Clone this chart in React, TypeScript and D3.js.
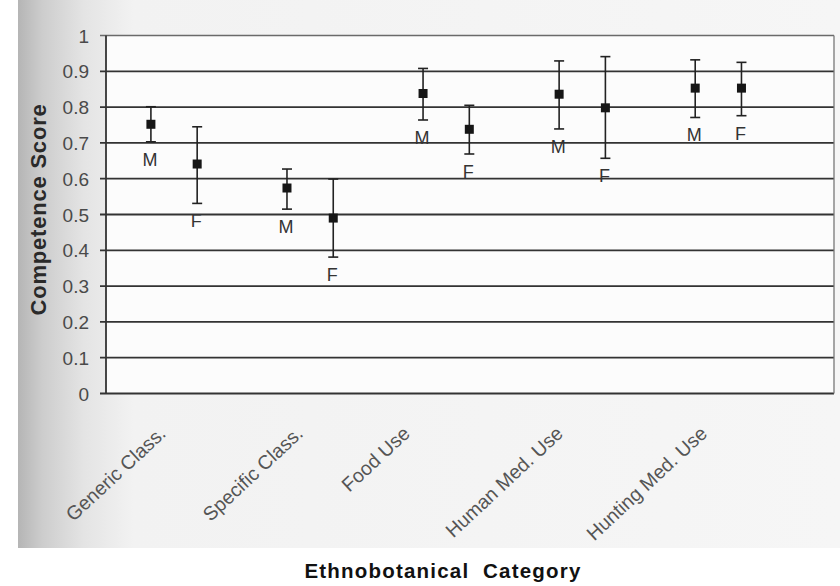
import React from "react";
import * as d3 from "d3";

const categories = ["Generic Class.", "Specific Class.", "Food Use", "Human Med. Use", "Hunting Med. Use"];
const maleMean = [0.752, 0.574, 0.838, 0.836, 0.853];
const maleLow = [0.703, 0.515, 0.764, 0.739, 0.771];
const maleHigh = [0.801, 0.627, 0.908, 0.929, 0.932];
const femaleMean = [0.641, 0.49, 0.738, 0.798, 0.853];
const femaleLow = [0.531, 0.381, 0.669, 0.657, 0.776];
const femaleHigh = [0.745, 0.599, 0.805, 0.941, 0.925];
const yTicks = [0, 0.1, 0.2, 0.3, 0.4, 0.5, 0.6, 0.7, 0.8, 0.9, 1];
const yTickLabels = ["0", "0.1", "0.2", "0.3", "0.4", "0.5", "0.6", "0.7", "0.8", "0.9", "1"];
const seriesLabels = ["M", "F"];

const W = 840;
const H = 586;
const FONT = "'Liberation Sans', Arial, sans-serif";

export default function App() {
  const x = d3.scaleLinear().domain([0.5, 5.85]).range([106, 834]);
  const y = d3.scaleLinear().domain([0, 1]).range([393.5, 35.5]);
  const offset = 0.17;
  const labelNudge = [-7, -6, -35, -18, -10];

  const series = [
    { mean: maleMean, low: maleLow, high: maleHigh, dx: -offset, label: seriesLabels[0] },
    { mean: femaleMean, low: femaleLow, high: femaleHigh, dx: offset, label: seriesLabels[1] },
  ];

  return (
    <svg width={W} height={H} style={{ position: "absolute", left: 0, top: 0 }} fontFamily={FONT}>
      <defs>
        <linearGradient id="scan" x1="0" x2="1" y1="0" y2="0">
          <stop offset="0" stopColor="#b5b5b5" />
          <stop offset="0.03" stopColor="#cdcdcd" />
          <stop offset="0.08" stopColor="#e4e4e4" />
          <stop offset="0.14" stopColor="#f2f2f2" />
          <stop offset="1" stopColor="#f6f6f6" />
        </linearGradient>
      </defs>
      <rect x={0} y={0} width={W} height={H} fill="#ffffff" />
      <rect x={18} y={0} width={W - 18} height={548} fill="url(#scan)" />
      <rect x={x(0.5)} y={y(1)} width={x(5.85) - x(0.5)} height={y(0) - y(1)} fill="#fcfcfc" />

      {/* gridlines */}
      {yTicks.map((t, i) => (
        <g key={i}>
          <line
            x1={100}
            x2={x(5.85)}
            y1={y(t)}
            y2={y(t)}
            stroke={t === 1 ? "#6a6a6a" : "#333"}
            strokeWidth={t === 1 ? 1.3 : 1.8}
          />
          <text x={89} y={y(t) + 7} textAnchor="end" fontSize={19} fill="#4a4a4a">
            {yTickLabels[i]}
          </text>
        </g>
      ))}
      <line x1={x(0.5)} x2={x(0.5)} y1={y(1)} y2={y(0)} stroke="#333" strokeWidth={1.8} />
      <line x1={x(5.85)} x2={x(5.85)} y1={y(1)} y2={y(0)} stroke="#777" strokeWidth={1.3} />

      {/* error bars */}
      {series.map((s, si) =>
        categories.map((c, i) => {
          const cx = x(i + 1 + s.dx);
          return (
            <g key={si + "-" + i}>
              <line x1={cx} x2={cx} y1={y(s.high[i])} y2={y(s.low[i])} stroke="#222" strokeWidth={1.6} />
              <line x1={cx - 5} x2={cx + 5} y1={y(s.high[i])} y2={y(s.high[i])} stroke="#222" strokeWidth={1.6} />
              <line x1={cx - 5} x2={cx + 5} y1={y(s.low[i])} y2={y(s.low[i])} stroke="#222" strokeWidth={1.6} />
              <rect x={cx - 4.5} y={y(s.mean[i]) - 4.5} width={9} height={9} fill="#161616" />
              <text x={cx - 1} y={y(s.low[i]) + 24} textAnchor="middle" fontSize={18} fill="#333">
                {s.label}
              </text>
            </g>
          );
        })
      )}

      {/* category labels */}
      {categories.map((c, i) => {
        const ax = x(i + 1) + labelNudge[i];
        const ay = 435;
        return (
          <text
            key={c}
            transform={`translate(${ax},${ay}) rotate(-43)`}
            textAnchor="end"
            fontSize={19.5}
            fill="#555"
          >
            {c}
          </text>
        );
      })}

      {/* axis titles */}
      <text
        transform={`translate(46,${(y(0) + y(1)) / 2 - 5}) rotate(-90)`}
        textAnchor="middle"
        fontSize={22}
        fontWeight="bold"
        fill="#2a2a2a"
        letterSpacing={0.8}
      >
        Competence Score
      </text>
      <text x={443} y={578} textAnchor="middle" fontSize={20.5} fontWeight="bold" fill="#111" letterSpacing={1.2}>
        {"Ethnobotanical\u00a0 Category"}
      </text>
    </svg>
  );
}
